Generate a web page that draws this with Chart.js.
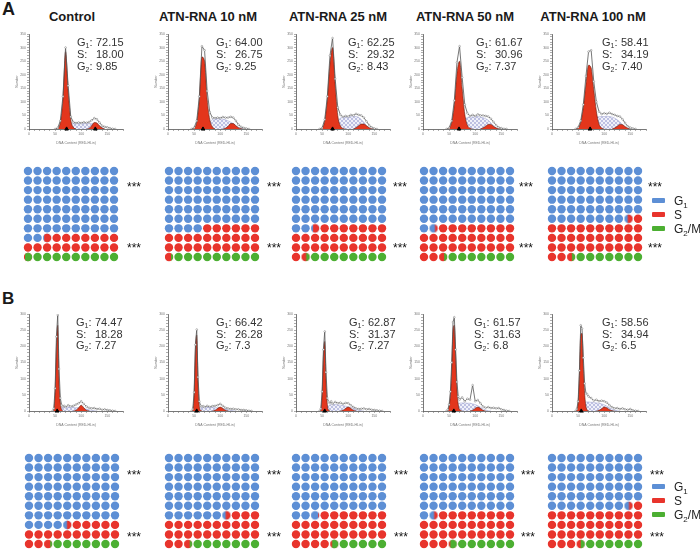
<!DOCTYPE html>
<html>
<head>
<meta charset="utf-8">
<script src="https://cdn.jsdelivr.net/npm/chart.js@4.4.1/dist/chart.umd.min.js"></script>
<style>
  body { margin: 0; background: #fff; font-family: Arial, "Liberation Sans", sans-serif; }
  #wrap { position: relative; width: 700px; height: 552px; overflow: hidden; }
  #wrap canvas, .t, .box { position: absolute; }
  .t { white-space: nowrap; line-height: 1; color: #1a1a1a; }
  .pan { font-weight: bold; }
  .ttl { font-weight: bold; font-size: 13px; transform: translateX(-50%); }
  .ann { font-size: 11px; line-height: 11.7px; color: #333; }
  .ann .k { display: inline-block; width: 19px; }
  .t sub { font-size: 7px; vertical-align: -2px; line-height: 0; }
  .star { font-size: 12px; color: #111; }
  .leg { font-size: 12px; color: #222; }
  .leg sub { font-size: 8px; vertical-align: -3px; }
  .box { width: 13px; height: 5px; border-radius: 1px; }
</style>
</head>
<body>
<div id="wrap"></div>
<script>
const groups = ["Control", "ATN-RNA 10 nM", "ATN-RNA 25 nM", "ATN-RNA 50 nM", "ATN-RNA 100 nM"];
const phases = ["G1", "S", "G2/M"];
const phaseColors = ["#5d8fd5", "#e8342c", "#4caf32"];

// cell cycle percentages (ModFit)
const g1PctA = [72.15, 64.00, 62.25, 61.67, 58.41];
const sPctA = [18.00, 26.75, 29.32, 30.96, 34.19];
const g2PctA = [9.85, 9.25, 8.43, 7.37, 7.40];
const g1PctB = [74.47, 66.42, 62.87, 61.57, 58.56];
const sPctB = [18.28, 26.28, 31.37, 31.63, 34.94];
const g2PctB = [7.27, 7.3, 7.27, 6.8, 6.5];

// histogram axes
const dnaTicks = [0, 50, 100, 150];
const yMaxA = 350;
const yMaxB = 300;
const xA = [40,45,50,55,60,65,70,75,80,85,90,95,100,105,110,115,120,125,130,135,140,145,150,155,160,165,170];
const xB = [35,40,45,47.5,50,52.5,55,57.5,60,62.5,65,67.5,70,75,80,85,90,95,100,105,110,115,120,125,130,135,140,145,150,155,160,165];
const peaksA = [[72, 127], [67], [70], [69], [73]];
const peaksB = [[54], [55], [55], [59], [56]];

// panel A histograms (counts)
const fitG1A = [
  [0,0,0,2,25,110,285,140,35,6,0,0,0,0,0,0,0,0,0,0,0,0,0,0,0,0,0],
  [0,0,4,25,110,265,250,110,35,8,0,0,0,0,0,0,0,0,0,0,0,0,0,0,0,0,0],
  [0,0,3,30,110,240,300,165,50,12,2,0,0,0,0,0,0,0,0,0,0,0,0,0,0,0,0],
  [0,0,3,25,90,205,250,150,55,14,3,0,0,0,0,0,0,0,0,0,0,0,0,0,0,0,0],
  [0,0,4,25,80,165,235,225,145,65,18,4,0,0,0,0,0,0,0,0,0,0,0,0,0,0,0]
];
const fitSA = [
  [0,0,0,0,0,0,0,5,15,20,20,20,20,20,20,20,20,18,15,10,5,0,0,0,0,0,0],
  [0,0,0,0,0,0,0,10,25,35,38,38,38,36,34,30,25,20,12,6,2,0,0,0,0,0,0],
  [0,0,0,0,0,0,0,10,30,40,42,42,44,45,46,46,42,35,25,12,4,0,0,0,0,0,0],
  [0,0,0,0,0,0,0,15,35,42,44,44,45,46,44,42,38,32,22,12,4,0,0,0,0,0,0],
  [0,0,0,0,0,0,0,10,30,42,45,46,46,47,46,44,40,34,26,16,6,2,0,0,0,0,0]
];
const fitG2A = [
  [0,0,0,0,0,0,0,0,0,0,0,0,0,0,0,2,12,24,22,12,4,0,0,0,0,0,0],
  [0,0,0,0,0,0,0,0,0,0,0,0,0,0,3,10,20,20,12,5,1,0,0,0,0,0,0],
  [0,0,0,0,0,0,0,0,0,0,0,0,0,0,0,5,12,18,18,12,5,1,0,0,0,0,0],
  [0,0,0,0,0,0,0,0,0,0,0,0,0,0,0,4,10,17,17,10,4,1,0,0,0,0,0],
  [0,0,0,0,0,0,0,0,0,0,0,0,0,0,0,0,4,10,17,16,9,3,0,0,0,0,0]
];
const totalA = [
  [0,0,0,4,30,120,300,160,45,25,22,24,22,25,23,26,32,40,36,24,12,8,6,3,1,0,0],
  [0,0,5,30,120,305,290,140,62,42,40,42,40,44,42,42,45,42,30,16,8,4,2,0,0,0,0],
  [0,0,4,35,120,270,335,185,80,52,45,48,46,52,50,56,52,50,42,28,14,6,2,0,0,0,0],
  [0,0,4,30,105,245,305,190,90,58,48,52,48,54,50,50,48,46,38,26,14,6,3,1,0,0,0],
  [0,0,6,30,90,195,285,290,175,100,64,55,58,56,60,55,52,48,46,36,22,10,5,2,0,0,0]
];

// panel B histograms
const fitG1B = [
  [0,0,0,5,60,200,265,90,25,4,0,0,0,0,0,0,0,0,0,0,0,0,0,0,0,0,0,0,0,0,0,0],
  [0,0,0,4,50,190,235,90,15,2,0,0,0,0,0,0,0,0,0,0,0,0,0,0,0,0,0,0,0,0,0,0],
  [0,0,0,5,50,170,215,95,20,3,0,0,0,0,0,0,0,0,0,0,0,0,0,0,0,0,0,0,0,0,0,0],
  [0,0,0,3,15,50,130,250,265,170,70,20,5,0,0,0,0,0,0,0,0,0,0,0,0,0,0,0,0,0,0,0],
  [0,0,0,4,25,110,235,240,140,55,15,3,0,0,0,0,0,0,0,0,0,0,0,0,0,0,0,0,0,0,0,0]
];
const fitSB = [
  [0,0,0,0,0,0,0,3,8,10,11,12,12,12,12,11,10,10,9,8,6,4,2,1,0,0,0,0,0,0,0,0],
  [0,0,0,0,0,0,0,3,8,10,11,12,12,12,12,11,10,10,9,8,6,4,2,1,0,0,0,0,0,0,0,0],
  [0,0,0,0,0,0,0,5,12,16,18,20,20,20,19,18,17,15,13,11,8,5,3,1,0,0,0,0,0,0,0,0],
  [0,0,0,0,0,0,0,0,8,14,18,22,24,25,25,24,24,22,20,16,12,7,3,1,0,0,0,0,0,0,0,0],
  [0,0,0,0,0,0,0,8,18,25,28,28,28,27,26,25,24,22,19,15,10,6,3,1,0,0,0,0,0,0,0,0]
];
const fitG2B = [
  [0,0,0,0,0,0,0,0,0,0,0,0,0,0,0,0,2,10,18,10,2,0,0,0,0,0,0,0,0,0,0,0],
  [0,0,0,0,0,0,0,0,0,0,0,0,0,0,0,0,2,8,12,8,2,0,0,0,0,0,0,0,0,0,0,0],
  [0,0,0,0,0,0,0,0,0,0,0,0,0,0,0,0,2,8,12,8,2,0,0,0,0,0,0,0,0,0,0,0],
  [0,0,0,0,0,0,0,0,0,0,0,0,0,0,0,0,0,2,8,12,8,2,0,0,0,0,0,0,0,0,0,0],
  [0,0,0,0,0,0,0,0,0,0,0,0,0,0,0,0,2,7,12,10,4,1,0,0,0,0,0,0,0,0,0,0]
];
const totalB = [
  [0,0,0,8,70,230,297,130,40,18,14,16,12,18,14,16,20,24,30,22,14,10,8,9,6,7,4,5,3,2,1,0],
  [0,0,0,6,58,205,252,105,30,16,14,15,12,16,13,15,16,18,22,16,10,8,6,7,5,5,3,3,2,1,0,0],
  [0,0,0,7,60,190,246,120,40,28,24,30,22,28,24,26,22,25,24,18,12,8,6,7,8,5,6,4,3,2,1,0],
  [0,0,0,4,20,60,150,275,290,190,90,45,35,42,30,38,35,80,30,34,24,14,10,12,9,10,8,9,5,3,1,0],
  [0,0,0,6,30,125,265,255,165,85,55,52,45,40,32,35,30,32,30,26,18,12,8,9,6,8,5,4,6,2,1,0]
];

// layout
const histX0 = [29, 168, 296, 423, 552];
const titleCx = [72, 208, 338, 465, 593];
const annLeftA = [77, 216, 348, 476, 602];
const annLeftB = [76, 216, 349, 474, 602];
const waffleXA = [24, 165, 292, 420, 548];
const waffleXB = [25, 165, 292, 420, 548];
const starXA = [127, 267, 393, 519, 648];
const starXB = [127, 267, 394, 521, 650];

const RED = "#e3361c";
const wrap = document.getElementById("wrap");

function addText(html, left, top, cls) {
  const d = document.createElement("div");
  d.className = "t " + cls;
  d.innerHTML = html;
  d.style.left = left + "px";
  d.style.top = top + "px";
  wrap.appendChild(d);
  return d;
}

function addCanvas(left, top, w, h) {
  const c = document.createElement("canvas");
  c.width = w;
  c.height = h;
  c.style.left = Math.round(left) + "px";
  c.style.top = Math.round(top) + "px";
  c.style.width = w + "px";
  c.style.height = h + "px";
  wrap.appendChild(c);
  return c;
}

function hatchPattern() {
  const c = document.createElement("canvas");
  c.width = c.height = 4;
  const x = c.getContext("2d");
  x.fillStyle = "#f0f1fa";
  x.fillRect(0, 0, 4, 4);
  x.strokeStyle = "#9aa0d2";
  x.lineWidth = 0.6;
  x.beginPath();
  x.moveTo(0, 0); x.lineTo(4, 4);
  x.moveTo(4, 0); x.lineTo(0, 4);
  x.stroke();
  return x.createPattern(c, "repeat");
}
const HATCH = hatchPattern();

// keep non-zero stretches (plus one zero on each side)
function pts(xs, ys) {
  const out = [];
  ys.forEach((y, i) => {
    if (y > 0 || ys[i - 1] > 0 || ys[i + 1] > 0) out.push({ x: xs[i], y: y });
  });
  return out;
}

const axisFont = { size: 3.5 };
const grid = { display: true, drawOnChartArea: false, drawTicks: true, tickLength: 2, color: "#777", lineWidth: 0.6 };
const border = { display: true, color: "#555", width: 0.8 };

function histogram(canvas, xs, total, g1, s, g2, peaks, yMax) {
  new Chart(canvas, {
    type: "line",
    data: {
      datasets: [
        { label: "Total", data: pts(xs, total), borderColor: "#555", borderWidth: 0.8,
          pointRadius: 0.9, pointBackgroundColor: "#fff", pointBorderColor: "#666", pointBorderWidth: 0.4,
          tension: 0, fill: false, order: 0 },
        { type: "scatter", label: "Peak", data: peaks.map(x => ({ x: x, y: 0 })), pointStyle: "triangle",
          pointRadius: 2.1, pointBackgroundColor: "#000", pointBorderColor: "#000", clip: false, order: 0 },
        { label: "G1", data: pts(xs, g1), fill: "origin", backgroundColor: RED, borderColor: "#5e1b0f",
          borderWidth: 0.6, pointRadius: 0, cubicInterpolationMode: "monotone", order: 1 },
        { label: "G2", data: pts(xs, g2), fill: "origin", backgroundColor: RED, borderColor: "#5e1b0f",
          borderWidth: 0.6, pointRadius: 0, cubicInterpolationMode: "monotone", order: 1 },
        { label: "S", data: pts(xs, s), fill: "origin", backgroundColor: HATCH, borderColor: "#9a9fcc",
          borderWidth: 0.5, pointRadius: 0, cubicInterpolationMode: "monotone", order: 2 }
      ]
    },
    options: {
      responsive: false,
      animation: false,
      devicePixelRatio: 1,
      events: [],
      layout: { padding: { top: 3, right: 3, left: 0, bottom: 0 } },
      plugins: { legend: { display: false }, tooltip: { enabled: false } },
      scales: {
        x: {
          type: "linear", min: 0, max: 180,
          afterFit: sc => { sc.height = 16; },
          ticks: { stepSize: 10, autoSkip: false, maxRotation: 0, padding: 1, font: axisFont, color: "#777",
                   callback: v => dnaTicks.includes(v) ? v : "" },
          grid: grid, border: border,
          title: { display: true, text: "DNA Content (RED-HLin)", font: axisFont, color: "#777", padding: 0 }
        },
        y: {
          min: 0, max: yMax,
          afterFit: sc => { sc.width = 14; },
          ticks: { stepSize: 10, autoSkip: false, padding: 1, font: axisFont, color: "#777",
                   callback: v => v % 50 === 0 ? v : "" },
          grid: grid, border: border,
          title: { display: true, text: "Number", font: axisFont, color: "#777", padding: 0 }
        }
      }
    }
  });
}

function splitDot(shares, r) {
  const c = document.createElement("canvas");
  const d = Math.ceil(r * 2) + 1;
  c.width = c.height = d;
  const ctx = c.getContext("2d");
  ctx.beginPath();
  ctx.arc(d / 2, d / 2, r, 0, Math.PI * 2);
  ctx.clip();
  let x = d / 2 - r;
  shares.forEach((f, k) => {
    if (f <= 0) return;
    ctx.fillStyle = phaseColors[k];
    ctx.fillRect(x, 0, d - x, d);
    x += f * 2 * r;
  });
  return c;
}

const clamp01 = v => Math.min(1, Math.max(0, v));

function waffle(canvas, g1, s) {
  const r = 4.2;
  const data = [], colors = [], styles = [];
  for (let i = 0; i < 100; i++) {
    const blue = clamp01(g1 - i);
    const upToRed = clamp01(g1 + s - i);
    const shares = [blue, upToRed - blue, 1 - upToRed];
    data.push({ x: i % 10, y: Math.floor(i / 10) });
    const main = shares.indexOf(Math.max(...shares));
    colors.push(phaseColors[main]);
    styles.push(shares[main] > 0.98 ? "circle" : splitDot(shares, r));
  }
  new Chart(canvas, {
    type: "scatter",
    data: { datasets: [{ data: data, pointStyle: styles, pointRadius: r, pointHoverRadius: r,
                         pointBackgroundColor: colors, pointBorderWidth: 0 }] },
    options: {
      responsive: false,
      animation: false,
      devicePixelRatio: 1,
      events: [],
      layout: { padding: 0 },
      plugins: { legend: { display: false }, tooltip: { enabled: false } },
      scales: {
        x: { display: false, min: -0.5, max: 9.5 },
        y: { display: false, min: -0.5, max: 9.5, reverse: true }
      }
    }
  });
}

function annotation(g1, s, g2, fmt) {
  return '<span class="k">G<sub>1</sub>:</span>' + fmt(g1) + '<br>' +
         '<span class="k">S:</span>' + fmt(s) + '<br>' +
         '<span class="k">G<sub>2</sub>:</span>' + fmt(g2);
}

function legend(tops) {
  const names = ["G<sub>1</sub>", "S", "G<sub>2</sub>/M"];
  names.forEach((n, k) => {
    const b = document.createElement("div");
    b.className = "box";
    b.style.left = "652px";
    b.style.top = (tops[k] + 3.3) + "px";
    b.style.background = phaseColors[k];
    wrap.appendChild(b);
    addText(n, 674, tops[k], "leg");
  });
}

// panel letters and column titles
addText("A", 2, 0, "pan").style.fontSize = "18px";
addText("B", 2, 289.5, "pan").style.fontSize = "17px";
groups.forEach((g, i) => addText(g, titleCx[i], 10, "ttl"));

// panel A
groups.forEach((g, i) => {
  histogram(addCanvas(histX0[i] - 14, 29, 113, 116), xA, totalA[i], fitG1A[i], fitSA[i], fitG2A[i], peaksA[i], yMaxA);
  addText(annotation(g1PctA[i], sPctA[i], g2PctA[i], v => v.toFixed(2)), annLeftA[i], 37.3, "ann");
  waffle(addCanvas(waffleXA[i] - 5.2, 162.3, 104, 104), g1PctA[i], sPctA[i]);
  addText("***", starXA[i], 180.7, "star");
  addText("***", starXA[i], 241.7, "star");
});
legend([194.8, 208.8, 222.8]);

// panel B
groups.forEach((g, i) => {
  histogram(addCanvas(histX0[i] - 14, 309, 113, 118), xB, totalB[i], fitG1B[i], fitSB[i], fitG2B[i], peaksB[i], yMaxB);
  addText(annotation(g1PctB[i], sPctB[i], g2PctB[i], v => String(v)), annLeftB[i], 317, "ann");
  waffle(addCanvas(waffleXB[i] - 5.2, 448.8, 104, 104), g1PctB[i], sPctB[i]);
  addText("***", starXB[i], 468.7, "star");
  addText("***", starXB[i], 530.7, "star");
});
legend([480.8, 494.8, 508.8]);
</script>
</body>
</html>
